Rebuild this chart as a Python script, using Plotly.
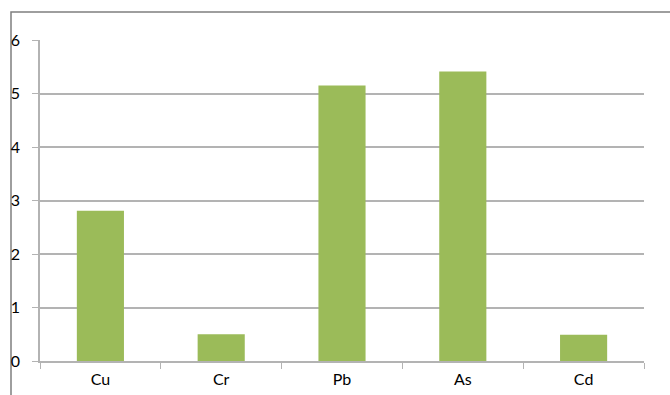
import plotly.graph_objects as go

categories = ["Cu", "Cr", "Pb", "As", "Cd"]
values = [2.81, 0.50, 5.15, 5.41, 0.49]
y_ticks = [0, 1, 2, 3, 4, 5, 6]

W, H = 670, 395
L, R, T, B = 40, 26, 40, 34
pw, ph = W - L - R, H - T - B

fig = go.Figure(go.Bar(
    x=categories, y=values,
    marker=dict(color="#9BBB59", line=dict(width=0)),
    width=0.39,
))

grid_col = "#b3b3b3"
fig.update_layout(
    width=W, height=H,
    margin=dict(l=L, r=R, t=T, b=B),
    paper_bgcolor="white", plot_bgcolor="white",
    font=dict(family="Lato, Open Sans, sans-serif", size=16, color="#000"),
    showlegend=False,
    xaxis=dict(
        showgrid=False, showline=True, linecolor=grid_col, linewidth=1.5,
        ticks="outside", tickson="boundaries", ticklen=6, tickcolor=grid_col,
        tickfont=dict(size=16), ticklabelstandoff=3, automargin=False,
    ),
    yaxis=dict(
        range=[0, 6], tickvals=y_ticks, showgrid=True, gridcolor=grid_col, gridwidth=1.5,
        showline=True, linecolor=grid_col, linewidth=1.5,
        ticks="outside", ticklen=6, tickcolor=grid_col, zeroline=False,
        ticklabelstandoff=9, tickfont=dict(size=16), automargin=False,
    ),
    shapes=[dict(
        type="rect", xref="paper", yref="paper",
        x0=(11 - L) / pw, x1=1 + (R + 10) / pw,
        y0=-(B + 10) / ph, y1=1 + (T - 12) / ph,
        line=dict(color="#7f7f7f", width=1.5),
        fillcolor="rgba(0,0,0,0)", layer="below",
    )],
)

fig.write_html("out.html")
